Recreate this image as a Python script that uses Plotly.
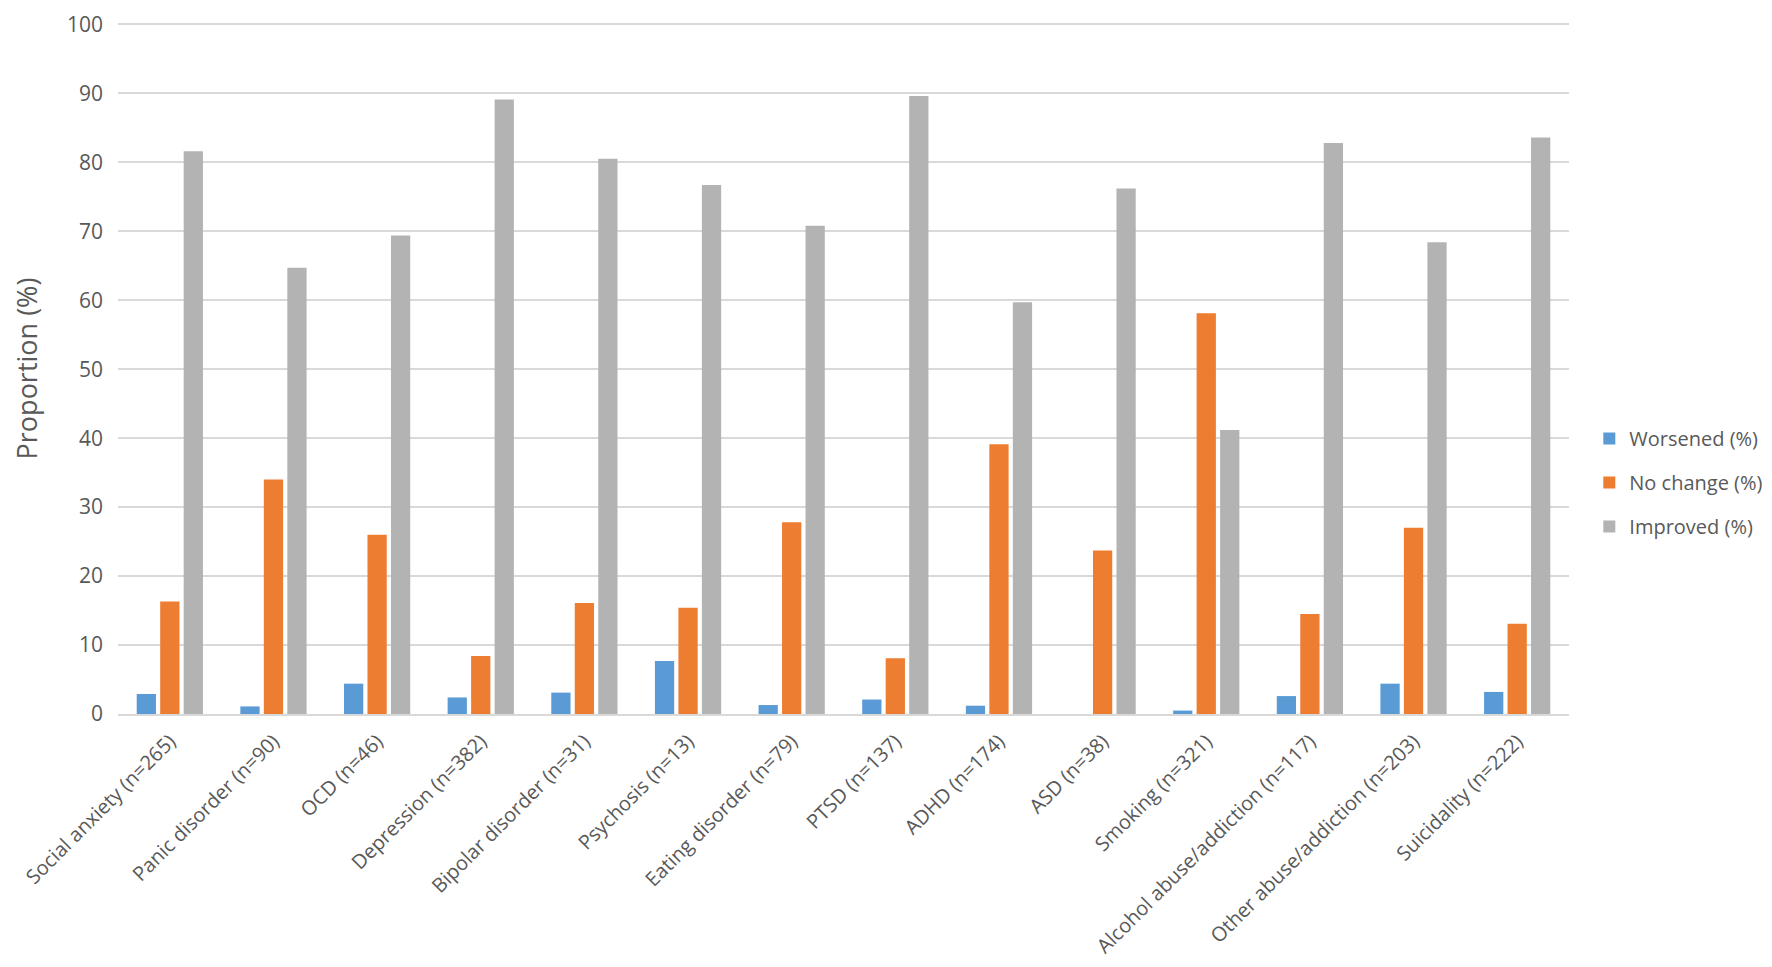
import plotly.graph_objects as go

categories = [
    "Social anxiety (n=265)", "Panic disorder (n=90)", "OCD (n=46)",
    "Depression (n=382)", "Bipolar disorder (n=31)", "Psychosis (n=13)",
    "Eating disorder (n=79)", "PTSD (n=137)", "ADHD (n=174)", "ASD (n=38)",
    "Smoking (n=321)", "Alcohol abuse/addiction (n=117)",
    "Other abuse/addiction (n=203)", "Suicidality (n=222)",
]
worsened = [2.9, 1.1, 4.4, 2.4, 3.1, 7.7, 1.3, 2.1, 1.2, 0.0, 0.5, 2.6, 4.4, 3.2]
no_change = [16.3, 34.0, 26.0, 8.4, 16.1, 15.4, 27.8, 8.1, 39.1, 23.7, 58.1, 14.5, 27.0, 13.1]
improved = [81.6, 64.7, 69.4, 89.1, 80.5, 76.7, 70.8, 89.6, 59.7, 76.2, 41.2, 82.8, 68.4, 83.6]
series_names = ["Worsened (%)", "No change (%)", "Improved (%)"]
colors = ["#5B9BD5", "#ED7D31", "#B3B3B3"]
y_ticks = list(range(0, 101, 10))

FONT = "Open Sans"
TXT = "#595959"

fig = go.Figure()
for name, vals, col in zip(series_names, [worsened, no_change, improved], colors):
    fig.add_trace(go.Bar(
        x=categories, y=vals, name=name, legendgroup=name,
        marker=dict(color=col, line=dict(width=0)),
    ))

fig.update_layout(
    width=1772, height=967,
    paper_bgcolor="white", plot_bgcolor="white",
    barmode="group", bargap=0.32, bargroupgap=0.18,
    margin=dict(l=110, r=205, t=15, b=261),
    font=dict(family=FONT, color=TXT, size=20),
    showlegend=True,
    legend=dict(
        x=1.014, xanchor="left", y=0.335, yanchor="middle",
        font=dict(family=FONT, size=20, color=TXT),
        tracegroupgap=15, bgcolor="rgba(0,0,0,0)",
    ),
)
fig.update_yaxes(
    range=[0, 100.2], tickvals=y_ticks, showgrid=True, gridcolor="#D9D9D9", gridwidth=1.5,
    zeroline=False, showline=False, ticks="", ticklabelstandoff=14, automargin=False,
    tickfont=dict(family=FONT, size=21, color=TXT),
    title=dict(text="Proportion (%)", font=dict(family=FONT, size=27, color=TXT), standoff=24),
)
fig.update_xaxes(
    tickangle=-45, showgrid=False, showline=True, linecolor="#D9D9D9", linewidth=1.5,
    ticks="", ticklabelstandoff=6, automargin=False,
    tickfont=dict(family=FONT, size=20, color=TXT),
)

fig.write_html("out.html")
